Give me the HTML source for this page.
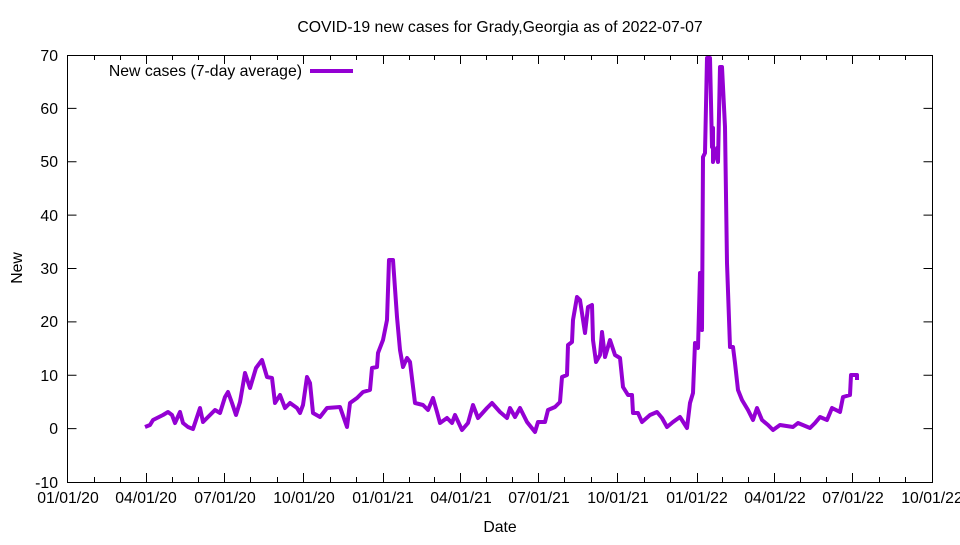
<!DOCTYPE html>
<html><head><meta charset="utf-8"><style>
html,body{margin:0;padding:0;background:#fff;}
svg text{font-family:"Liberation Sans",sans-serif;font-size:15.8px;fill:#000;}
</style></head><body>
<svg width="960" height="540" viewBox="0 0 960 540" xmlns="http://www.w3.org/2000/svg">
<rect width="960" height="540" fill="#fff"/>
<text x="500" y="32" text-anchor="middle">COVID-19 new cases for Grady,Georgia as of 2022-07-07</text>
<g stroke="#000" stroke-width="1" fill="none">
<rect x="67.5" y="55.5" width="865" height="427"/>
<path d="M67.5 428.6h9M932.5 428.6h-9M67.5 375.2h9M932.5 375.2h-9M67.5 321.9h9M932.5 321.9h-9M67.5 268.5h9M932.5 268.5h-9M67.5 215.1h9M932.5 215.1h-9M67.5 161.8h9M932.5 161.8h-9M67.5 108.4h9M932.5 108.4h-9"/>
<path d="M146.5 482v-9M146.5 55v9M224.5 482v-9M224.5 55v9M303.5 482v-9M303.5 55v9M383.5 482v-9M383.5 55v9M460.5 482v-9M460.5 55v9M538.5 482v-9M538.5 55v9M617.5 482v-9M617.5 55v9M697.5 482v-9M697.5 55v9M774.5 482v-9M774.5 55v9M852.5 482v-9M852.5 55v9"/>
<path d="M94.5 482v-5M94.5 55v5M120.5 482v-5M120.5 55v5M172.5 482v-5M172.5 55v5M198.5 482v-5M198.5 55v5M250.5 482v-5M250.5 55v5M277.5 482v-5M277.5 55v5M330.5 482v-5M330.5 55v5M356.5 482v-5M356.5 55v5M409.5 482v-5M409.5 55v5M434.5 482v-5M434.5 55v5M486.5 482v-5M486.5 55v5M512.5 482v-5M512.5 55v5M564.5 482v-5M564.5 55v5M591.5 482v-5M591.5 55v5M644.5 482v-5M644.5 55v5M670.5 482v-5M670.5 55v5M722.5 482v-5M722.5 55v5M748.5 482v-5M748.5 55v5M800.5 482v-5M800.5 55v5M826.5 482v-5M826.5 55v5M879.5 482v-5M879.5 55v5M905.5 482v-5M905.5 55v5"/>
</g>
<g text-anchor="end">
<text x="58" y="488">-10</text><text x="58" y="434">0</text><text x="58" y="381">10</text><text x="58" y="327">20</text><text x="58" y="274">30</text><text x="58" y="221">40</text><text x="58" y="167">50</text><text x="58" y="114">60</text><text x="58" y="61">70</text>
</g>
<g text-anchor="middle">
<text x="68" y="503">01/01/20</text><text x="146" y="503">04/01/20</text><text x="225" y="503">07/01/20</text><text x="304" y="503">10/01/20</text><text x="383" y="503">01/01/21</text><text x="461" y="503">04/01/21</text><text x="539" y="503">07/01/21</text><text x="618" y="503">10/01/21</text><text x="697" y="503">01/01/22</text><text x="775" y="503">04/01/22</text><text x="853" y="503">07/01/22</text><text x="932" y="503">10/01/22</text>
<text x="500" y="532">Date</text>
</g>
<text transform="translate(22,268) rotate(-90)" text-anchor="middle">New</text>
<text x="302" y="76" text-anchor="end">New cases (7-day average)</text>
<line x1="310" y1="71" x2="353" y2="71" stroke="#9400d3" stroke-width="4"/>
<polyline fill="none" stroke="#9400d3" stroke-width="4" stroke-linejoin="round" points="145,427 150,425 153,420 163,415 168,412 172,415 175,423 180,412 183,423 188,427 193,429 197,417 200,408 203,422 210,415 215,410 220,413 225,397 228,392 232,403 236,415 240,402 245,373 250,388 256,368 262,360 267,377 272,378 275,403 280,395 285,408 290,403 297,408 300,413 303,405 307,377 310,383 313,413 320,417 327,408 340,407 347,427 350,403 357,398 363,392 370,390 372,368 377,367 378,353 383,340 387,320 389,260 393,260 397,317 400,350 403,367 407,358 410,362 415,403 423,405 428,410 433,398 437,412 440,423 447,418 452,423 455,415 462,430 468,423 473,405 478,418 487,408 492,403 500,412 507,418 510,408 515,417 520,408 527,422 535,432 538,422 545,422 548,410 555,407 560,402 562,377 567,375 568,345 572,342 573,320 577,297 580,300 585,333 588,307 592,305 593,340 596,362 600,355 602,332 605,357 610,340 615,355 620,358 623,387 628,395 632,395 633,413 638,413 642,422 650,415 657,412 662,418 667,427 673,422 680,417 687,428 690,403 693,393 695,343 698,348 700,273 702,330 703,157 705,153 707,58 710,58 712,147 713,128 713,162 717,148 718,162 720,67 722,67 725,127 727,263 730,347 733,347 735,363 738,390 742,400 748,410 753,420 757,408 762,420 768,425 773,430 780,425 793,427 798,423 810,428 815,423 820,417 827,420 832,408 840,412 843,397 850,395 851,375 857,375 857,380"/>
</svg>
</body></html>
